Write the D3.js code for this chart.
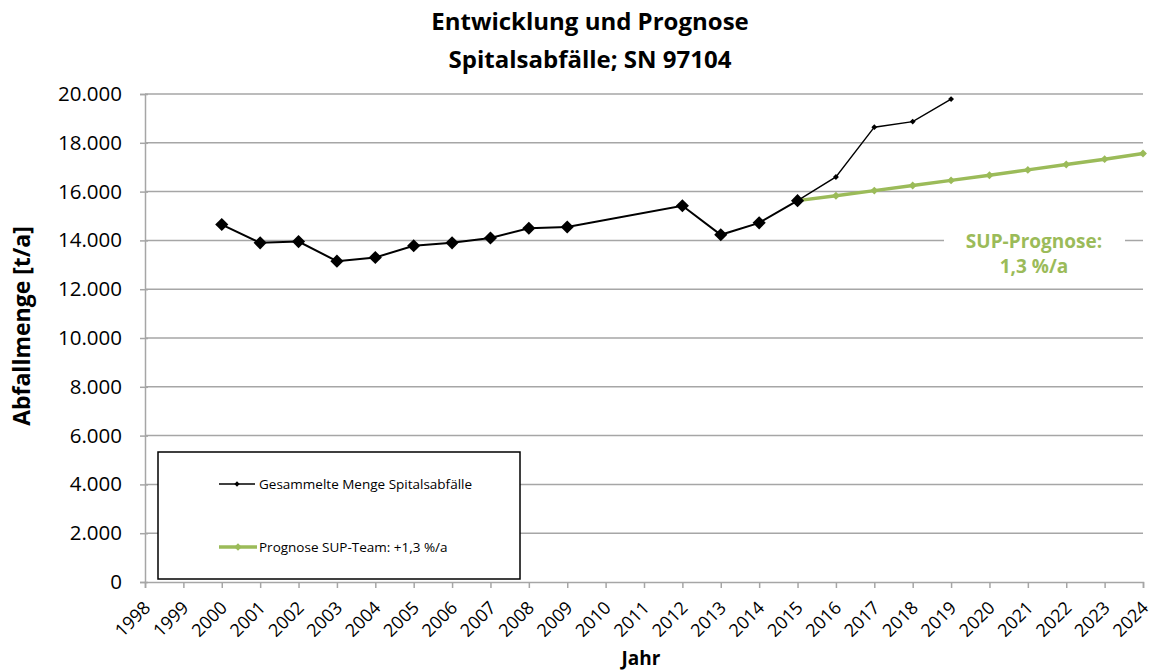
<!DOCTYPE html>
<html>
<head>
<meta charset="utf-8">
<script src="https://cdn.jsdelivr.net/npm/d3@7"></script>
<style>
body { margin: 0; background: #fff; }
svg { font-family: "Open Sans", Lato, sans-serif; }
</style>
</head>
<body>
<svg id="chart" width="1153" height="670"></svg>
<script>
const titleLines = ["Entwicklung und Prognose", "Spitalsabfälle; SN 97104"];
const yTicks = [0, 2000, 4000, 6000, 8000, 10000, 12000, 14000, 16000, 18000, 20000];
const xYears = d3.range(1998, 2025);
const histYears = [2000, 2001, 2002, 2003, 2004, 2005, 2006, 2007, 2008, 2009, 2012, 2013, 2014, 2015];
const histValues = [14650, 13900, 13950, 13150, 13300, 13780, 13900, 14100, 14500, 14550, 15420, 14230, 14720, 15630];
const recentYears = [2015, 2016, 2017, 2018, 2019];
const recentValues = [15630, 16600, 18640, 18870, 19790];
const progYears = [2015, 2016, 2017, 2018, 2019, 2020, 2021, 2022, 2023, 2024];
const progValues = [15630, 15830, 16040, 16250, 16460, 16670, 16890, 17110, 17330, 17560];
const legendLabels = ["Gesammelte Menge Spitalsabfälle", "Prognose SUP-Team: +1,3 %/a"];
const annotation = ["SUP-Prognose:", "1,3 %/a"];

const svg = d3.select("#chart");
const L = 145, R = 1143, T = 94, B = 582;
const x = d3.scaleLinear().domain([1998, 2024]).range([L, R]);
const y = d3.scaleLinear().domain([0, 20000]).range([B, T]);
const green = "#9BBB59";
const grid = "#A6A6A6";
const FONT = "'Open Sans', Lato, sans-serif";
const fmt = v => d3.format(",")(v).replace(/,/g, ".");

// title
svg.append("g").selectAll("text").data(titleLines).join("text")
  .attr("x", 590).attr("y", (d, i) => 30 + i * 38)
  .attr("text-anchor", "middle").attr("font-weight", "bold").attr("font-size", 24)
  .attr("fill", "#000").text(d => d);

// gridlines
svg.append("g").selectAll("line").data(yTicks.filter(d => d > 0)).join("line")
  .attr("x1", L).attr("x2", R).attr("y1", d => y(d)).attr("y2", d => y(d))
  .attr("stroke", grid).attr("stroke-width", 1.5);

// y axis
const yAxis = svg.append("g").attr("transform", `translate(${L},0)`)
  .call(d3.axisLeft(y).tickValues(yTicks).tickFormat(fmt).tickSize(5).tickPadding(18));
yAxis.select(".domain").attr("stroke", grid).attr("stroke-width", 1.5);
yAxis.selectAll(".tick line").attr("stroke", grid).attr("stroke-width", 1.5).attr("x2", -5).attr("x1", 3);
yAxis.selectAll(".tick text").attr("font-size", 20.5).attr("fill", "#000").attr("font-family", FONT);

// x axis
const xAxis = svg.append("g").attr("transform", `translate(0,${B})`)
  .call(d3.axisBottom(x).tickValues(xYears).tickFormat(d3.format("d")).tickSize(6));
xAxis.select(".domain").attr("stroke", grid).attr("stroke-width", 1.5);
xAxis.selectAll(".tick line").attr("stroke", grid).attr("stroke-width", 1.5);
xAxis.selectAll(".tick text").attr("font-size", 18).attr("fill", "#000")
  .attr("font-family", FONT)
  .attr("text-anchor", "end").attr("dy", null).attr("y", 0)
  .attr("transform", "translate(6,27) rotate(-45)");

// axis titles
svg.append("text").attr("transform", "translate(30,326) rotate(-90)")
  .attr("text-anchor", "middle").attr("font-weight", "bold").attr("font-size", 23).text("Abfallmenge [t/a]");
svg.append("text").attr("x", 641).attr("y", 665).attr("text-anchor", "middle")
  .attr("font-weight", "bold").attr("font-size", 19).text("Jahr");

const diamond = (s) => d3.symbol().type(d3.symbolDiamond2).size(s);

// annotation with white background
const annG = svg.append("g");
annG.append("rect").attr("x", 944).attr("y", 222).attr("width", 181).attr("height", 56).attr("fill", "#fff");
annG.selectAll("text").data(annotation).join("text")
  .attr("x", 1034).attr("y", (d, i) => 248 + i * 25).attr("text-anchor", "middle")
  .attr("font-weight", "bold").attr("font-size", 19).attr("fill", green).text(d => d);

// prognosis line
const progData = progYears.map((d, i) => [d, progValues[i]]);
const line = d3.line().x(d => x(d[0])).y(d => y(d[1]));
svg.append("path").datum(progData).attr("d", line).attr("fill", "none")
  .attr("stroke", green).attr("stroke-width", 3.5);
svg.append("g").selectAll("path").data(progData).join("path")
  .attr("transform", d => `translate(${x(d[0])},${y(d[1])})`).attr("d", diamond(40)).attr("fill", green);

// recent thin line
const recData = recentYears.map((d, i) => [d, recentValues[i]]);
svg.append("path").datum(recData).attr("d", line).attr("fill", "none")
  .attr("stroke", "#000").attr("stroke-width", 1.4);
svg.append("g").selectAll("path").data(recData.slice(1)).join("path")
  .attr("transform", d => `translate(${x(d[0])},${y(d[1])})`).attr("d", diamond(22)).attr("fill", "#000");

// historic line
const histData = histYears.map((d, i) => [d, histValues[i]]);
svg.append("path").datum(histData).attr("d", line).attr("fill", "none")
  .attr("stroke", "#000").attr("stroke-width", 2);
svg.append("g").selectAll("path").data(histData).join("path")
  .attr("transform", d => `translate(${x(d[0])},${y(d[1])})`).attr("d", diamond(110)).attr("fill", "#000");

// legend
const lg = svg.append("g");
lg.append("rect").attr("x", 158).attr("y", 452).attr("width", 362).attr("height", 127)
  .attr("fill", "#fff").attr("stroke", "#000").attr("stroke-width", 1.5);
lg.append("line").attr("x1", 219).attr("x2", 255).attr("y1", 484).attr("y2", 484).attr("stroke", "#000").attr("stroke-width", 1.4);
lg.append("path").attr("transform", "translate(237,484)").attr("d", diamond(18)).attr("fill", "#000");
lg.append("line").attr("x1", 219).attr("x2", 257).attr("y1", 547).attr("y2", 547).attr("stroke", green).attr("stroke-width", 3.5);
lg.append("path").attr("transform", "translate(238,547)").attr("d", diamond(36)).attr("fill", green);
lg.selectAll("text").data(legendLabels).join("text")
  .attr("x", 259).attr("y", (d, i) => 489 + i * 63).attr("font-size", 13.5).attr("fill", "#000").text(d => d);
</script>
</body>
</html>
